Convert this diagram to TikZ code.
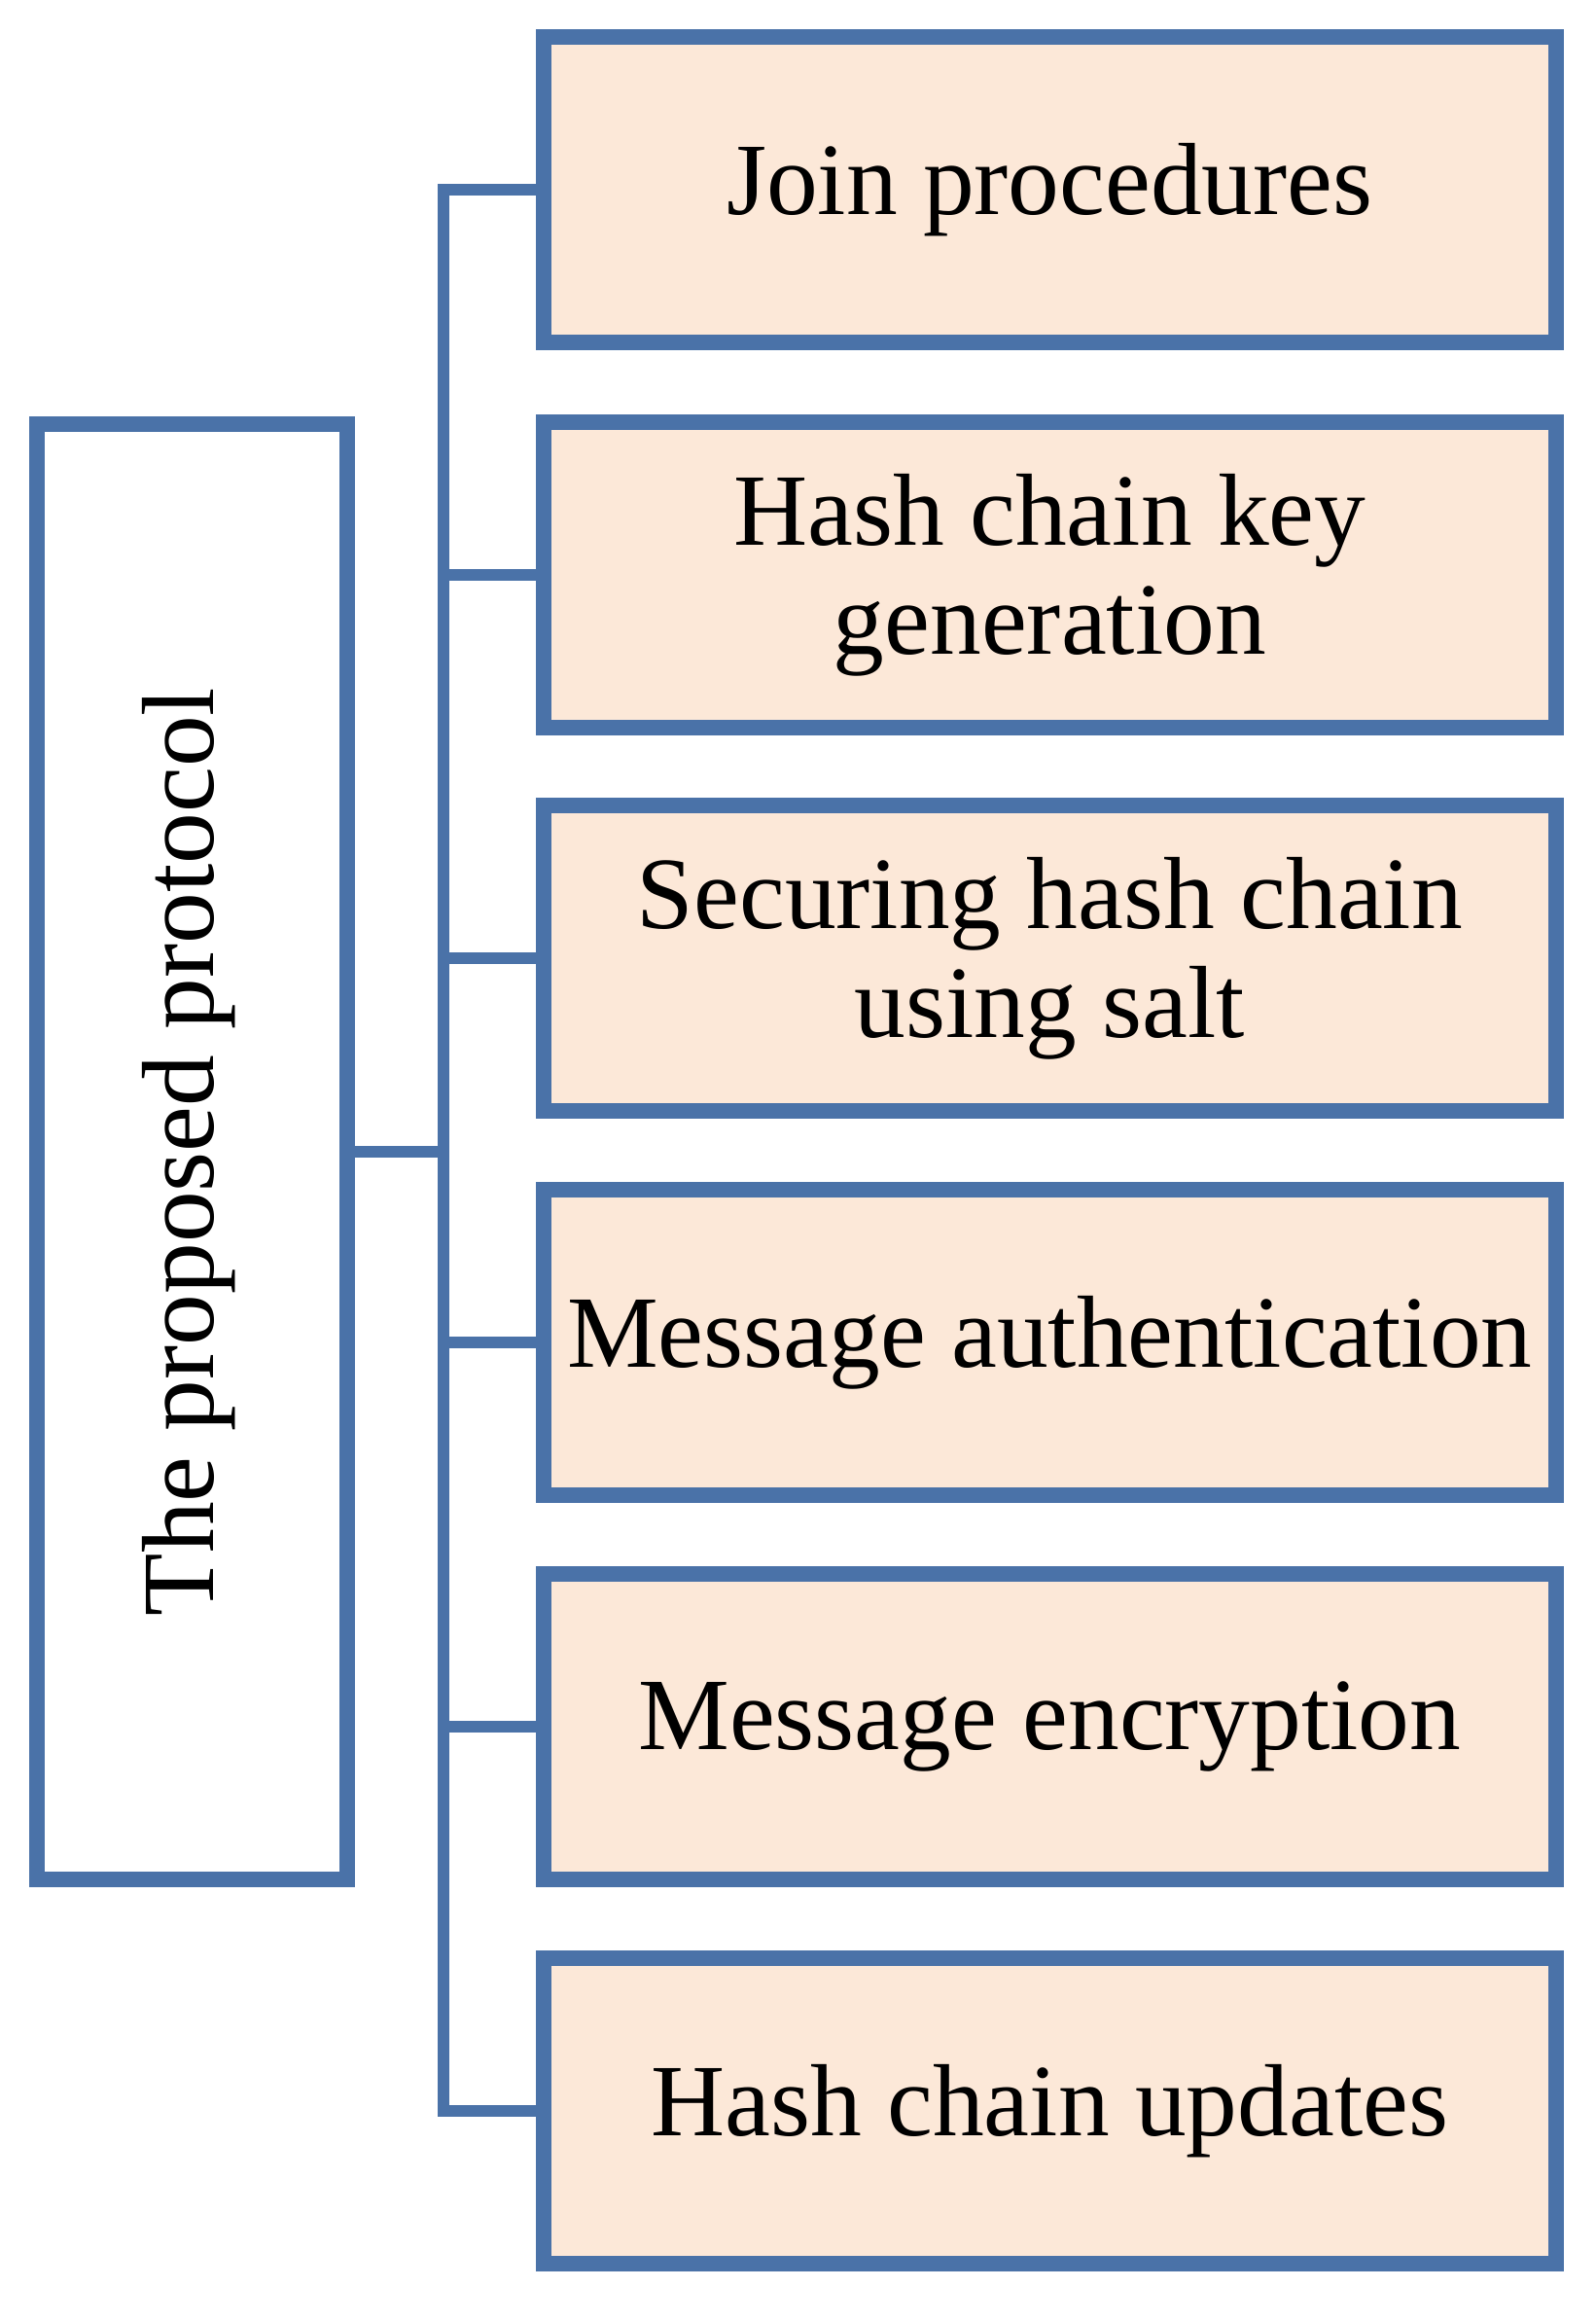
\documentclass[tikz,border=0pt]{standalone}
\usepackage{fontspec}
\setmainfont{Liberation Serif}
\begin{document}
\begin{tikzpicture}[x=0.02cm,y=-0.02cm,
  bc/.style={draw=bord,line width=6pt},
  box/.style={bc,fill=boxfill,inner sep=0pt,align=center,font=\fontsize{39.5}{42}\selectfont},
  ln/.style={draw=bord,line width=4.5pt,line cap=rect}]
\definecolor{bord}{HTML}{4A72A8}
\definecolor{boxfill}{HTML}{FCE8D8}
\useasboundingbox (0,0) rectangle (1080,1572);
\node[box,fill=white,minimum width=210*0.02cm,minimum height=985*0.02cm] (root) at (130,779.5) {};
\node[rotate=90,font=\fontsize{39.5}{42}\selectfont] at (128,779.5) {The proposed protocol};
\foreach \n/\y/\t in {a/128.5/{Join procedures},b/389/{Hash chain key\\generation},c/648.5/{Securing hash chain\\using salt},d/908.5/{Message authentication},e/1168.5/{Message encryption},f/1428.5/{Hash chain updates}}{
  \node[box,minimum width=685*0.02cm,minimum height=207*0.02cm] (\n) at (710.5,\y) {\t};
}
\coordinate (top) at (300,128.5);
\coordinate (bot) at (300,1428.5);
\draw[ln] (top) -- (bot);
\draw[ln,line cap=butt] (root.east) -- (root.east -| top);
\foreach \n in {a,b,c,d,e,f}{\draw[ln,line cap=butt] (\n.west -| top) -- (\n.west);}
\end{tikzpicture}
\end{document}
